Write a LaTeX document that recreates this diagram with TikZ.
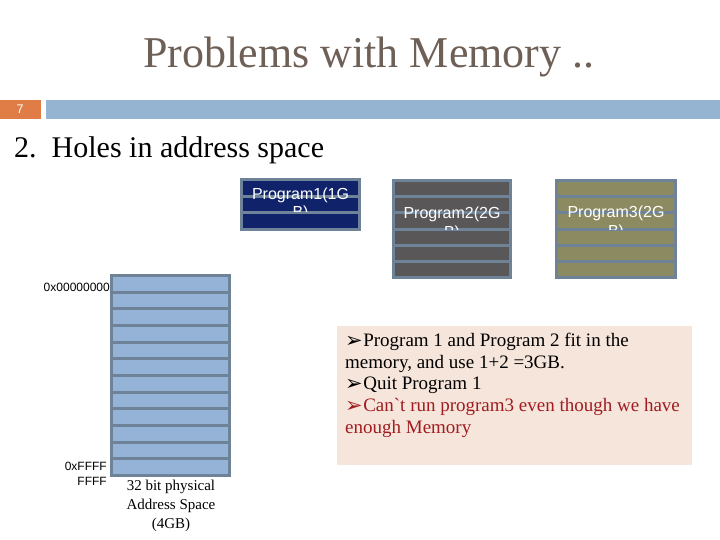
\documentclass[tikz,border=0pt]{standalone}
\usepackage{fontspec}
\setmainfont{Liberation Serif}
\setsansfont{Liberation Sans}
\newfontfamily\dejavu{DejaVu Sans}
\definecolor{titlec}{HTML}{6E6057}
\definecolor{orangec}{HTML}{E07C45}
\definecolor{barc}{HTML}{95B4D2}
\definecolor{borderc}{HTML}{6F8398}
\definecolor{memc}{HTML}{95B3D7}
\definecolor{p1c}{HTML}{10226A}
\definecolor{p2c}{HTML}{595757}
\definecolor{p3c}{HTML}{8C8A60}
\definecolor{boxc}{HTML}{F6E5DB}
\definecolor{redc}{HTML}{A01C20}
\tikzset{
  rowbox/.style={draw=borderc, line width=3pt},
  progtxt/.style={text=white, font=\sffamily\fontsize{16}{18}\selectfont, anchor=base, inner sep=0pt},
  addr/.style={font=\sffamily\fontsize{12}{15}\selectfont, inner sep=0pt},
  bodytxt/.style={font=\fontsize{19}{21.7}\selectfont, anchor=base west, inner sep=0pt},
}
\newcommand{\arrowbul}{\raisebox{-0.5pt}{\dejavu\fontsize{21}{22}\selectfont ➢}\hspace{0.5pt}}
\begin{document}
\begin{tikzpicture}[x=1pt,y=-1pt]
\useasboundingbox (0,0) rectangle (720,540);
% title
\node[text=titlec, font=\fontsize{44}{50}\selectfont, anchor=base] (title) at (369,68) {Problems with Memory ..};
% header bar
\fill[orangec] (0,100) rectangle (41,119);
\node[text=white, font=\sffamily\fontsize{12.5}{14}\selectfont] (num) at (20,109.5) {7};
\fill[barc] (46,100) rectangle (720,119);
% subtitle
\node[font=\fontsize{30}{34}\selectfont, anchor=base west, inner sep=0pt] (sub) at (14,158) {2.\ \ Holes in address space};
% memory column
\foreach \i in {0,...,11} {
  \draw[rowbox, fill=memc] (111.5,{275.5+16.667*\i}) rectangle (229.5,{275.5+16.667*(\i+1)});
}
% program 1
\foreach \i in {0,...,2} {
  \draw[rowbox, fill=p1c] (241.5,{179.5+16.667*\i}) rectangle (359.5,{179.5+16.667*(\i+1)});
}
% program 2
\foreach \i in {0,...,5} {
  \draw[rowbox, fill=p2c] (393.5,{180.5+16.167*\i}) rectangle (510.5,{180.5+16.167*(\i+1)});
}
% program 3
\foreach \i in {0,...,5} {
  \draw[rowbox, fill=p3c] (556.5,{180.5+16.167*\i}) rectangle (675.5,{180.5+16.167*(\i+1)});
}
\begin{scope}
  \clip (241.5,178) rectangle (359.5,211.5);
  \node[progtxt] (p1a) at (300.5,199.5) {Program1(1G};
  \node[progtxt] (p1b) at (300.5,217.9) {B)};
\end{scope}
\begin{scope}
  \clip (393.5,179) rectangle (510.5,229.5);
  \node[progtxt] (p2a) at (452,218.7) {Program2(2G};
  \node[progtxt] (p2b) at (452,237.1) {B)};
\end{scope}
\begin{scope}
  \clip (556.5,179) rectangle (675.5,230);
  \node[progtxt] (p3a) at (616,217.7) {Program3(2G};
  \node[progtxt] (p3b) at (616,236.1) {B)};
\end{scope}
% address labels
\node[addr, anchor=base east] (a0) at (110,291.5) {0x00000000};
\node[addr, anchor=base east] (a1) at (107,470.5) {0xFFFF};
\node[addr, anchor=base east] (a2) at (107,485.5) {FFFF};
\node[font=\fontsize{15}{19}\selectfont, align=center, anchor=north, inner sep=0pt] (cap) at (171,480) {32 bit physical\\Address Space\\(4GB)};
% text box
\fill[boxc] (337,326) rectangle (692,465);
\node[bodytxt] (l1) at (345,346.5) {\arrowbul Program 1 and Program 2 fit in the};
\node[bodytxt] (l2) at (345,368.2) {memory, and use 1+2 =3GB.};
\node[bodytxt] (l3) at (345,389.9) {\arrowbul Quit Program 1};
\node[bodytxt, text=redc] (l4) at (345,411.6) {\arrowbul Can\textasciigrave t run program3 even though we have};
\node[bodytxt, text=redc] (l5) at (345,433.3) {enough Memory};
\end{tikzpicture}
\end{document}
